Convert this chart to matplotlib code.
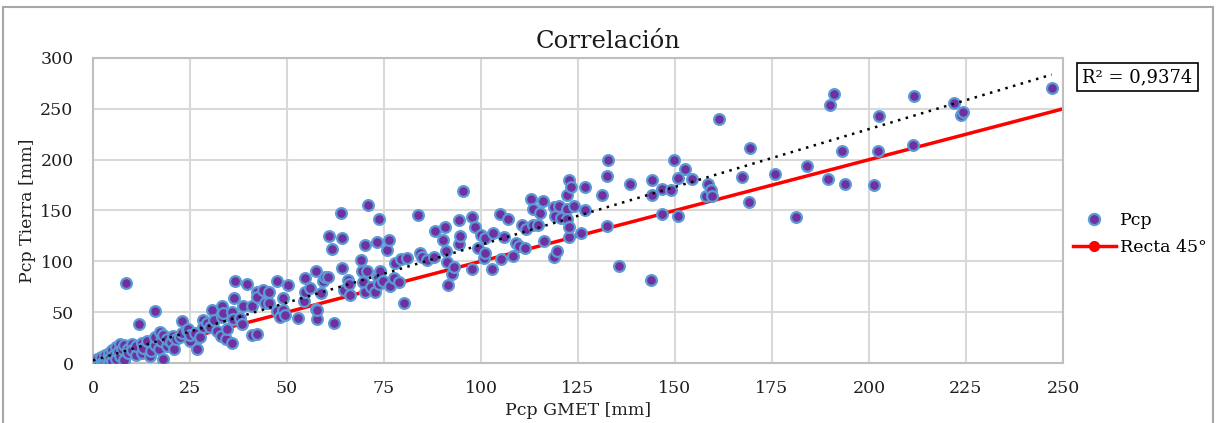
import numpy as np
import matplotlib
matplotlib.use("Agg")
import matplotlib.pyplot as plt
from matplotlib.lines import Line2D
from matplotlib.patches import Rectangle

plt.rcParams['font.family'] = ['DejaVu Serif']

title = "Correlación"
xlabel = "Pcp GMET [mm]"
ylabel = "Pcp Tierra [mm]"
r2_text = "R² = 0,9374"
series_label = "Pcp"
line_label = "Recta 45°"
xticks = [0, 25, 50, 75, 100, 125, 150, 175, 200, 225, 250]
yticks = [0, 50, 100, 150, 200, 250, 300]
line45_x = [0, 250]
line45_y = [0, 250]
# linear trendline (y = a*x + b)
trend_slope = 1.138
trend_intercept = 2.5

gmet = [0, 0.5, 1, 1, 1.5, 2, 2, 2.5, 3, 3, 3.5, 4, 4, 4.5, 5, 5, 5.5, 6, 6, 6.5, 7, 7, 7.5, 8, 8, 8.4,
        9, 9, 10, 10, 11, 11, 11.9, 12.5, 12.5, 13, 14, 14.7, 15, 15.9, 16, 16, 17, 17.3, 17.5, 18, 18,
        19, 19, 20, 20.5, 21, 21.5, 22.4, 22.9, 23, 24.1, 24.6, 25, 25, 26.3, 26.8, 27.6, 28.4, 28.4,
        29.3, 30.2, 30.6, 31.3, 32, 32.9, 33.2, 33.3, 33.6, 34.3, 34.5, 35.7, 35.9, 36, 36.4, 36.6, 37.9,
        38.4, 38.7, 39.7, 40.9, 41.1, 42.2, 42.2, 42.2, 43.9, 44.4, 45.3, 45.4, 47.4, 47.5, 48.3, 48.9,
        49, 49.5, 50.2, 52.8, 54.4, 54.6, 54.6, 55.9, 57.4, 57.5, 57.7, 57.7, 58.8, 59.4, 59.8, 60.5,
        60.8, 61.5, 62.2, 64, 64.3, 64.3, 64.6, 65.7, 66.1, 66.2, 69, 69.3, 69.7, 70, 70.1, 70.6, 71,
        71.6, 72.8, 73.3, 73.5, 73.7, 73.8, 73.9, 74.7, 75.8, 76.3, 76.5, 77.7, 77.9, 78.8, 79.3, 80.2,
        81, 83.7, 84.3, 84.7, 86, 87.9, 88.2, 90.1, 90.6, 91, 91.3, 91.6, 92.6, 93.1, 94.3, 94.4, 94.6,
        95.4, 97.6, 97.8, 98.5, 99.2, 99.9, 100.9, 101.1, 101.1, 102.8, 103, 104.9, 105.2, 105.8, 106.9,
        108.3, 108.9, 109.8, 110.6, 111.4, 111.5, 112.9, 113.5, 113.5, 114.6, 115.2, 116.1, 116.3, 118.8,
        118.8, 119.2, 119.5, 120.2, 120.7, 122.1, 122.1, 122.2, 122.7, 122.7, 122.8, 123.2, 124, 125.9,
        126.7, 126.9, 131.1, 132.6, 132.6, 132.7, 135.6, 138.5, 143.7, 144, 144, 146.6, 146.7, 149,
        149.8, 150.7, 150.8, 152.6, 154.5, 158, 158.6, 159.3, 159.6, 161.4, 167.3, 169.2, 169.3, 175.8,
        181.2, 184, 189.5, 190, 191, 193, 193.9, 201.4, 202.3, 202.6, 211.4, 211.6, 221.9, 223.7, 224.3,
        247.1]
tierra = [0, 2, 1, 4, 0.5, 3, 6, 1, 2, 8, 4, 1, 10, 5, 2, 13, 8, 16, 4, 11, 19, 7, 14, 3, 18, 78.5,
          14, 10, 19, 13, 8, 17, 38.6, 9.5, 20, 15, 22, 7, 12, 51.6, 18, 26, 14, 30.8, 22, 3.8, 28,
          17, 24, 21, 27, 14, 24, 26, 41.8, 30, 32.4, 33, 22, 28, 29.8, 14.2, 25.9, 42.3, 35.7,
          39, 35.7, 52.1, 42.3, 31.5, 26.5, 44.9, 56, 48.9, 23.3, 33.1, 19.4, 49.9, 43, 64.2, 81, 44,
          38, 56.3, 77.7, 27.5, 56, 28.5, 69.5, 65.2, 71.8, 59.3, 58.7, 69.8, 81, 51.4, 44.9, 63.6,
          52.1, 47.2, 76.3, 44, 60.7, 70.1, 84, 74, 90.5, 53, 43.2, 52.1, 68.5, 80.9, 84.9, 84.6,
          124.9, 112.1, 39.3, 147.8, 123.2, 93.7, 72.1, 81.6, 77.7, 67.2, 101.6, 90.8, 80, 116.3, 69.5, 90.2, 155.7,
          74.4, 70.1, 119.3, 84.9, 141.6, 77.7, 90.5, 80.9, 110.8, 120.6, 75.7, 83.3, 98.3, 80, 102.3, 58.7,
          103.5, 145.5, 107.9, 104, 101.3, 104.5, 130.1, 121, 134, 110.4, 99, 76.4, 87.5, 94.7, 140.6, 116.7, 124.9,
          169.4, 143.9, 92.1, 133.7, 112.8, 125.9, 102.9, 107.9, 123.2, 92.7, 127.8, 146.5, 102.6, 123.6, 141.6,
          105.5, 118.3, 115, 136, 112.8, 131.5, 161.6, 151.1, 136, 136, 147.2, 159.6, 120, 153.1,
          103.9, 144.5, 110.4, 154.4, 143, 151.1, 165.5, 142, 179.6, 124.2, 134, 173.4, 154, 127.5,
          150.4, 173.4, 164.9, 184.2, 134.7, 199.6, 95, 175.7, 81.6, 179.6, 164.9, 146.5, 171.4, 170,
          199.6, 144.5, 181.9, 191, 180.6, 164.2, 175.7, 170, 164.2, 240, 182.6, 158.6, 211, 185.8,
          143.9, 193.7, 181.2, 254, 264.8, 209, 175.7, 175, 209, 243, 214.6, 262.5, 255.6, 243.8, 246.5,
          270.1]

x = np.array(gmet, dtype=float)
y = np.array(tierra, dtype=float)

fig = plt.figure(figsize=(12.16, 4.23), dpi=100)
ax = fig.add_axes([93/1216, 1-363/423, (1063-93)/1216, (363-58)/423])

grid_c = '#D9D9D9'
ax.set_axisbelow(True)
ax.grid(True, color=grid_c, linewidth=1.5)
for s in ax.spines.values():
    s.set_color('#BFBFBF')
    s.set_linewidth(1.5)

ax.plot(line45_x, line45_y, color='#FF0000', linewidth=2.5, zorder=2)
tx = np.array([0, x.max()])
ax.plot(tx, trend_slope*tx + trend_intercept, color='black', linestyle=(0, (1, 2.2)),
        linewidth=1.8, zorder=4)
ax.scatter(x, y, s=60, facecolor='#7030A0', edgecolor='#5B9BD5', linewidths=1.6, zorder=3)

ax.set_xlim(0, 250)
ax.set_ylim(0, 300)
ax.set_xticks(xticks)
ax.set_yticks(yticks)
ax.tick_params(length=0, labelsize=12.5, colors='#1f1f1f')
ax.tick_params(axis='y', pad=14)
ax.tick_params(axis='x', pad=12)
ax.set_xlabel(xlabel, fontsize=12.5, color='#1f1f1f', labelpad=4)
ax.set_ylabel(ylabel, fontsize=12.5, color='#1f1f1f', labelpad=3)

fig.text(608/1216, 1-41/423, title, ha='center', va='center', fontsize=17.5, color='#1a1a1a')

fig.text(1137.5/1216, 1-77/423, r2_text, ha='center', va='center', fontsize=13,
         bbox=dict(boxstyle='square,pad=0.3', facecolor='white', edgecolor='black', linewidth=1.2))

h1 = Line2D([], [], linestyle='none', marker='o', markersize=8, markerfacecolor='#7030A0',
            markeredgecolor='#5B9BD5', markeredgewidth=1.6)
h2 = Line2D([], [], color='#FF0000', linewidth=2.5, marker='o', markersize=7,
            markerfacecolor='#FF0000', markeredgecolor='#FF0000')
fig.legend([h1, h2], [series_label, line_label], loc='center left',
           bbox_to_anchor=(1073/1216, 1-234/423), frameon=False, fontsize=12.5,
           labelspacing=0.6, handlelength=2.45, handletextpad=0.25,
           borderpad=0, borderaxespad=0)

fig.patches.append(Rectangle((3/1216, -0.05), 1210/1216, 1.05-7/423, transform=fig.transFigure,
                             facecolor='none', edgecolor='#A6A6A6', linewidth=1.5))

fig.savefig('out.png', dpi=100, facecolor='white')
